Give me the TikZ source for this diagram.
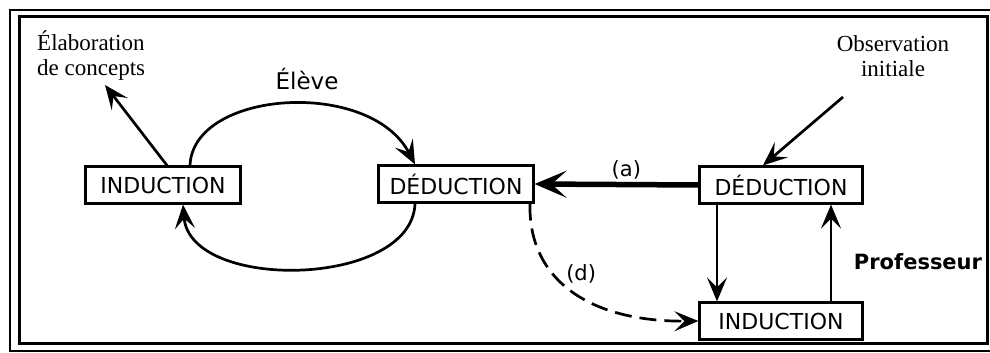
\documentclass[tikz,border=0pt]{standalone}
\usepackage{fontspec}
\setmainfont{Liberation Serif}
\setsansfont{DejaVu Sans}
\usetikzlibrary{
    arrows.meta
}

\begin{document}
\begin{tikzpicture}[
    x=1pt,
    y=-1pt,
    every node/.style={
        font=\sffamily\fontsize{22pt}{26pt}\selectfont
    },
    stage/.style={
        rectangle,
        draw=black,
        line width=2.2pt,
        minimum width=155pt,
        minimum height=37pt,
        inner sep=0pt,
        align=center,
        fill=white
    },
    stagewide/.style={
        stage,
        minimum width=163pt
    },
    arrow/.style={
        -{Stealth[length=24pt,width=20pt,inset=10pt]},
        line width=2.7pt,
        draw=black
    },
    bigarrow/.style={
        -{Stealth[length=32pt,width=27pt,inset=15pt]},
        line width=5.5pt,
        draw=black
    },
    dasharrow/.style={
        arrow,
        dash pattern=on 17pt off 8pt
    },
    note/.style={
        font=\rmfamily\fontsize{23pt}{25pt}\selectfont,
        inner sep=0pt
    },
    actor/.style={
        font=\sffamily\fontsize{23pt}{26pt}\selectfont
    },
    actorbold/.style={
        font=\sffamily\bfseries\fontsize{21pt}{24pt}\selectfont
    },
    tag/.style={
        font=\sffamily\fontsize{21pt}{24pt}\selectfont
    }
]

\useasboundingbox (0,0) rectangle (990,353);

% ===========================================================
% FRAME
% ===========================================================

\draw[line width=2pt] (992,10) -- (10,10) -- (10,351) -- (992,351);
\draw[line width=3pt] (19,17) rectangle (987,343);

% ===========================================================
% STAGES
% ===========================================================

\node[stage] (indl) at (163,185) {INDUCTION};

\node[stage] (dedm) at (456,184) {DÉDUCTION};

\node[stagewide] (dedr) at (781,185) {DÉDUCTION};

\node[stagewide] (indb) at (781,321) {INDUCTION};

% Free texts
\node[note, anchor=north west, align=left] (elab) at (37,31)
    {Élaboration\\de concepts};

\node[note, anchor=north, align=center] (obs) at (893,35)
    {Observation\\initiale};

\node[actor] (eleve) at (307,79) {Élève};

\node[actorbold] (prof) at (918,262) {Professeur};

\coordinate (elabtip) at (105,85);
\coordinate (obsfoot) at (843,97);

% ===========================================================
% STUDENT LOOP
% ===========================================================

\draw[arrow] ([xshift=4pt]indl.north) -- (elabtip);

\draw[arrow]
    ([xshift=27pt]indl.north)
    .. controls (193,90) and (370,78) ..
    ([xshift=-41pt]dedm.north);

\draw[arrow]
    ([xshift=-41pt]dedm.south)
    .. controls (412,288) and (190,292) ..
    ([xshift=20pt]indl.south);

% ===========================================================
% TEACHER LOOP AND TRANSFERS
% ===========================================================

\draw[arrow] (obsfoot) -- ([xshift=-18pt]dedr.north);

\draw[bigarrow]
    (dedr.west)
    -- node[tag, pos=0.44, above=-1pt] {(a)}
    (dedm.east);

\draw[dasharrow]
    ([xshift=74pt]dedm.south)
    .. controls (528,280) and (590,322) ..
    node[tag, pos=0.45, above right=-3pt] {(d)}
    (indb.west);

\draw[arrow] ([xshift=-64pt]dedr.south) -- ([xshift=-64pt]indb.north);
\draw[arrow] ([xshift=50pt]indb.north) -- ([xshift=50pt]dedr.south);

\end{tikzpicture}
\end{document}
